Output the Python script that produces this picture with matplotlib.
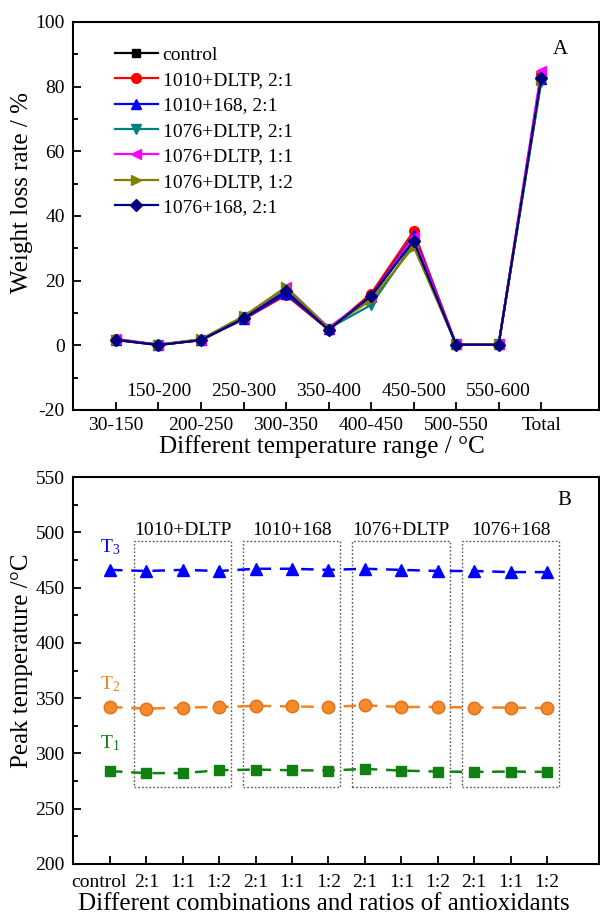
import matplotlib
matplotlib.use("Agg")
import matplotlib.pyplot as plt
import matplotlib.transforms as mtransforms
from matplotlib.patches import Rectangle
from matplotlib.ticker import MultipleLocator

plt.rcParams['font.family'] = ['Liberation Serif', 'DejaVu Serif']
plt.rcParams['mathtext.fontset'] = 'custom'
plt.rcParams['mathtext.rm'] = 'Liberation Serif'
plt.rcParams['mathtext.it'] = 'Liberation Serif'
plt.rcParams['axes.unicode_minus'] = False

# ---------------- Panel A data ----------------
temp_ranges = ["30-150", "150-200", "200-250", "250-300", "300-350", "350-400",
               "400-450", "450-500", "500-550", "550-600", "Total"]
series_names = ["control", "1010+DLTP, 2:1", "1010+168, 2:1", "1076+DLTP, 2:1",
                "1076+DLTP, 1:1", "1076+DLTP, 1:2", "1076+168, 2:1"]
control_vals = [1.7, 0.2, 1.6, 8.5, 16.5, 5.0, 15.0, 32.5, 0.3, 0.3, 82.5]
d1010_dltp_21 = [1.9, 0.1, 1.7, 8.0, 15.5, 4.8, 16.0, 35.3, 0.3, 0.3, 84.0]
d1010_168_21 = [1.6, 0.1, 1.6, 8.2, 16.0, 5.0, 15.2, 34.0, 0.3, 0.3, 82.5]
d1076_dltp_21 = [1.8, 0.2, 1.8, 8.8, 17.0, 5.2, 12.5, 31.5, 0.3, 0.3, 81.3]
d1076_dltp_11 = [2.0, 0.2, 1.8, 8.6, 18.0, 5.5, 15.0, 33.5, 0.3, 0.3, 84.8]
d1076_dltp_12 = [1.8, 0.2, 1.9, 9.0, 18.0, 5.3, 14.0, 30.5, 0.3, 0.3, 82.0]
d1076_168_21 = [1.7, 0.1, 1.6, 8.3, 16.7, 4.8, 15.3, 32.3, 0.2, 0.2, 82.7]

# ---------------- Panel B data ----------------
sample_labels = ["control", "2:1", "1:1", "1:2", "2:1", "1:1", "1:2",
                 "2:1", "1:1", "1:2", "2:1", "1:1", "1:2"]
group_names = ["1010+DLTP", "1010+168", "1076+DLTP", "1076+168"]
T3 = [466, 465, 466, 465, 467, 467, 466, 467, 466, 465, 465, 464, 464]
T2 = [342, 340.5, 341.5, 342, 343, 342.5, 342, 343.5, 342, 342, 341.5, 341.5, 341]
T1 = [284, 282.2, 282.2, 284.8, 285.4, 284.8, 284.5, 286, 284.5, 283.6, 283.3, 283.6, 283.3]

fig = plt.figure(figsize=(6.0, 9.15), dpi=100)
ax1 = fig.add_axes([73/600, 1-410/915, 526/600, 388/915])
ax2 = fig.add_axes([73/600, 1-864/915, 526/600, 387/915])

# ---------- Panel A ----------
all_series = [control_vals, d1010_dltp_21, d1010_168_21, d1076_dltp_21,
              d1076_dltp_11, d1076_dltp_12, d1076_168_21]
colors = ["black", "#ff0000", "#0000ff", "#008080", "#ff00ff", "#808000", "#000080"]
markers = ["s", "o", "^", "v", "<", ">", "D"]
msizes = [6, 7, 7, 7, 7, 7, 6]
xs = list(range(len(temp_ranges)))
for vals, c, m, ms, name in zip(all_series, colors, markers, msizes, series_names):
    ax1.plot(xs, vals, color=c, marker=m, markersize=ms, linewidth=1.6, label=name)

ax1.set_xlim(-1.01, 11.36)
ax1.set_ylim(-20, 100)
ax1.yaxis.set_major_locator(MultipleLocator(20))
ax1.yaxis.set_minor_locator(MultipleLocator(10))
ax1.set_xticks(xs)
ax1.set_xticklabels([lab if i % 2 == 0 else "" for i, lab in enumerate(temp_ranges)])
for i, lab in enumerate(temp_ranges):
    if i % 2 == 1:
        ax1.text(i, -14.4, lab, ha="center", va="center", fontsize=14)
ax1.tick_params(axis="both", which="major", direction="in", length=6, width=1.3,
                labelsize=14)
ax1.tick_params(axis="y", which="minor", direction="in", length=3.5, width=1.3)
ax1.tick_params(axis="x", which="major", pad=5)
ax1.tick_params(axis="y", which="major", pad=6)
ax1.set_ylabel("Weight loss rate / %", fontsize=18, labelpad=2)
ax1.yaxis.label.set_y(0.56)
ax1.set_xlabel("Different temperature range / °C", fontsize=18, labelpad=1)
ax1.xaxis.label.set_x(0.473)
ax1.text(0.926, 0.93, "A", transform=ax1.transAxes, fontsize=15, ha="center", va="center")
leg = ax1.legend(loc="upper left", bbox_to_anchor=(0.065, 0.958), frameon=False,
                 fontsize=14, handlelength=2.2, handletextpad=0.25, labelspacing=0.40,
                 borderaxespad=0)
for sp in ax1.spines.values():
    sp.set_linewidth(1.5)

# ---------- Panel B ----------
xb = list(range(len(sample_labels)))
ax2.plot(xb, T3, color="#0000ff", linestyle=(0, (5, 3.5)), linewidth=1.8,
         marker="^", markersize=9)
ax2.plot(xb, T2, color="#f58220", linestyle=(0, (5, 3.5)), linewidth=1.8,
         marker="o", markersize=9, markeredgecolor="#e0701a", markerfacecolor="#f58a2a")
ax2.plot(xb, T1, color="#108010", linestyle=(0, (5, 3.5)), linewidth=1.8,
         marker="s", markersize=7.5)

for g, name in enumerate(group_names):
    start = 1 + 3*g
    end = start + 2
    ax2.add_patch(Rectangle((start - 0.34, 270), (end - start) + 0.67, 222,
                            fill=False, edgecolor="#555555", linestyle=(0, (1.2, 1.5)),
                            linewidth=1.0))
    ax2.text((start + end) / 2, 502, name, ha="center", va="center", fontsize=14)

ax2.text(0, 487, r"T$_3$", color="#0000ff", fontsize=14, ha="center", va="center")
ax2.text(0, 363, r"T$_2$", color="#f58220", fontsize=14, ha="center", va="center")
ax2.text(0, 309, r"T$_1$", color="#108010", fontsize=14, ha="center", va="center")
ax2.text(0.935, 0.94, "B", transform=ax2.transAxes, fontsize=15, ha="center", va="center")

ax2.set_xlim(-1.016, 13.43)
ax2.set_ylim(200, 550)
ax2.yaxis.set_major_locator(MultipleLocator(50))
ax2.yaxis.set_minor_locator(MultipleLocator(25))
ax2.set_xticks(xb)
ax2.set_xticklabels(sample_labels)
ax2.tick_params(axis="both", which="major", direction="in", length=6, width=1.3,
                labelsize=14)
ax2.tick_params(axis="y", which="minor", direction="in", length=3.5, width=1.3)
ax2.tick_params(axis="x", which="major", pad=7)
ax2.tick_params(axis="y", which="major", pad=6)
# shift the "control" label left so it does not collide with its neighbour
offset = mtransforms.ScaledTranslation(-0.11, 0, fig.dpi_scale_trans)
first_lab = ax2.get_xticklabels()[0]
first_lab.set_transform(first_lab.get_transform() + offset)
ax2.set_ylabel("Peak temperature /°C", fontsize=18, labelpad=2)
ax2.yaxis.label.set_y(0.525)
ax2.set_xlabel("Different combinations and ratios of antioxidants", fontsize=18, labelpad=2)
ax2.xaxis.label.set_x(0.477)
for sp in ax2.spines.values():
    sp.set_linewidth(1.5)

fig.savefig("out.png", dpi=100)
